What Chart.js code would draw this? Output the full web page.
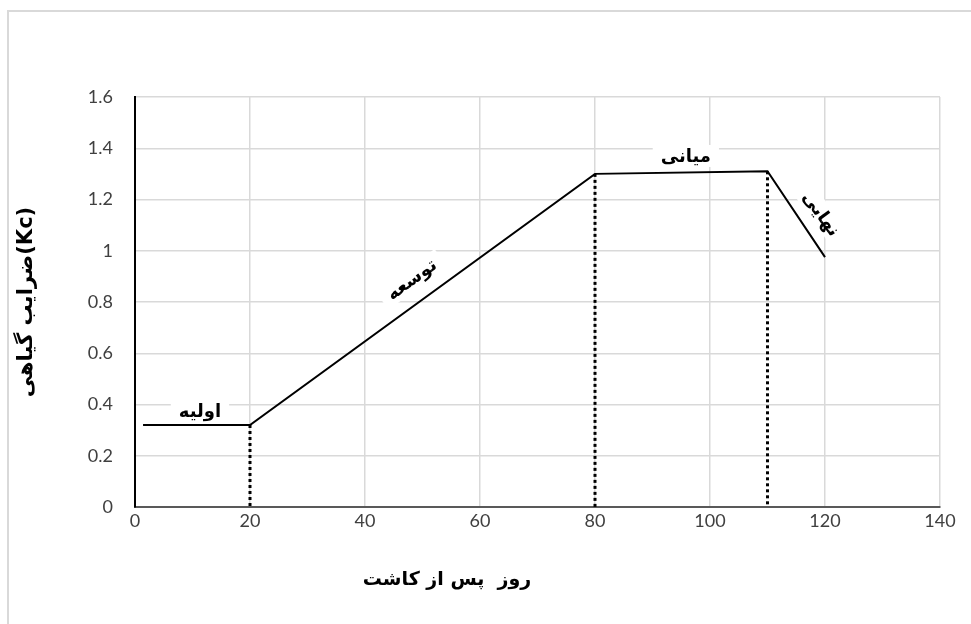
<!DOCTYPE html>
<html>
<head>
<meta charset="utf-8">
<script src="https://cdn.jsdelivr.net/npm/chart.js@4/dist/chart.umd.min.js"></script>
<style>
  html, body { margin: 0; padding: 0; background: #fff; }
  #wrap { width: 971px; height: 624px; position: relative; }
</style>
</head>
<body>
<div id="wrap"><canvas id="c" width="971" height="624"></canvas></div>
<script>
// ---- data ----
const days = [1.4, 20, 80, 110, 120];
const kc = [0.32, 0.32, 1.30, 1.31, 0.975];
const stageBoundaryDays = [20, 80, 110];
const stageBoundaryKc = [0.32, 1.30, 1.31];
const stageNames = ['اولیه', 'توسعه', 'میانی', 'نهایی'];
const xTicks = [0, 20, 40, 60, 80, 100, 120, 140];
const yTicks = [0, 0.2, 0.4, 0.6, 0.8, 1, 1.2, 1.4, 1.6];
const xTitle = 'روز  پس از کاشت';
const yTitle = 'ضرایب گیاهی(Kc)';

// label placement (data coordinates) and rotation
const labelPlacement = [
  { x: 11.3, y: 0.37, angle: 0 },
  { x: 48.2, y: 0.885, angle: -36 },
  { x: 95.8, y: 1.366, angle: 0 },
  { x: 119.2, y: 1.142, angle: 54 }
];

const mainLine = days.map((d, i) => ({ x: d, y: kc[i] }));
const dropSets = stageBoundaryDays.map((d, i) => ({
  type: 'scatter',
  data: [{ x: d, y: stageBoundaryKc[i] }, { x: d, y: 0 }],
  showLine: true,
  borderColor: '#000',
  borderWidth: 3,
  borderDash: [3, 3],
  pointRadius: 0,
  clip: false
}));

const fontPersian = '"DejaVu Sans", sans-serif';

const decor = {
  id: 'decor',
  beforeDraw(chart) {
    const ctx = chart.ctx;
    ctx.save();
    ctx.fillStyle = '#fff';
    ctx.fillRect(0, 0, chart.width, chart.height);
    ctx.strokeStyle = '#d9d9d9';
    ctx.lineWidth = 2;
    ctx.beginPath();
    ctx.moveTo(8, chart.height);
    ctx.lineTo(8, 11);
    ctx.lineTo(chart.width, 11);
    ctx.stroke();
    ctx.restore();
  },
  afterDatasetsDraw(chart) {
    const ctx = chart.ctx;
    const xs = chart.scales.x, ys = chart.scales.y;
    ctx.save();
    ctx.font = 'bold 18px ' + fontPersian;
    ctx.textAlign = 'center';
    ctx.textBaseline = 'middle';
    stageNames.forEach((name, i) => {
      const p = labelPlacement[i];
      const px = xs.getPixelForValue(p.x);
      const py = ys.getPixelForValue(p.y);
      ctx.save();
      ctx.translate(px, py);
      ctx.rotate(p.angle * Math.PI / 180);
      const w = ctx.measureText(name).width;
      ctx.fillStyle = '#fff';
      ctx.fillRect(-w / 2 - 8, -12, w + 16, 22);
      ctx.fillStyle = '#000';
      ctx.fillText(name, 0, 0);
      ctx.restore();
    });
    // axis titles
    const ca = chart.chartArea;
    ctx.fillStyle = '#000';
    ctx.font = 'bold 19px ' + fontPersian;
    ctx.fillText(xTitle, 447, 580);
    ctx.save();
    ctx.translate(27, (ca.top + ca.bottom) / 2);
    ctx.rotate(-Math.PI / 2);
    ctx.font = 'bold 21px ' + fontPersian;
    ctx.fillText(yTitle, 0, 0);
    ctx.restore();
    ctx.restore();
  }
};

new Chart(document.getElementById('c'), {
  type: 'scatter',
  data: {
    datasets: [{
      data: mainLine,
      showLine: true,
      borderColor: '#000',
      borderWidth: 2,
      pointRadius: 0,
      tension: 0
    }, ...dropSets]
  },
  options: {
    responsive: false,
    animation: false,
    layout: { padding: { left: 20, top: 97, right: 31, bottom: 0 } },
    plugins: { legend: { display: false }, tooltip: { enabled: false } },
    scales: {
      x: {
        type: 'linear',
        min: 0, max: 140,
        afterBuildTicks: s => { s.ticks = xTicks.map(v => ({ value: v })); },
        afterFit: s => { s.height = 117; },
        ticks: { color: '#404040', font: { family: 'Lato', size: 18 }, padding: 3, maxRotation: 0 },
        grid: { color: '#d9d9d9', lineWidth: 1.5, drawTicks: false },
        border: { color: '#595959', width: 2 }
      },
      y: {
        type: 'linear',
        min: 0, max: 1.6,
        afterBuildTicks: s => { s.ticks = yTicks.map(v => ({ value: v })); },
        afterFit: s => { s.width = 115; },
        ticks: { color: '#404040', font: { family: 'Lato', size: 18 }, padding: 22,
                 callback: v => String(Math.round(v * 10) / 10) },
        grid: { color: '#d9d9d9', lineWidth: 1.5, drawTicks: false },
        border: { color: '#000', width: 2 }
      }
    }
  },
  plugins: [decor]
});
</script>
</body>
</html>
